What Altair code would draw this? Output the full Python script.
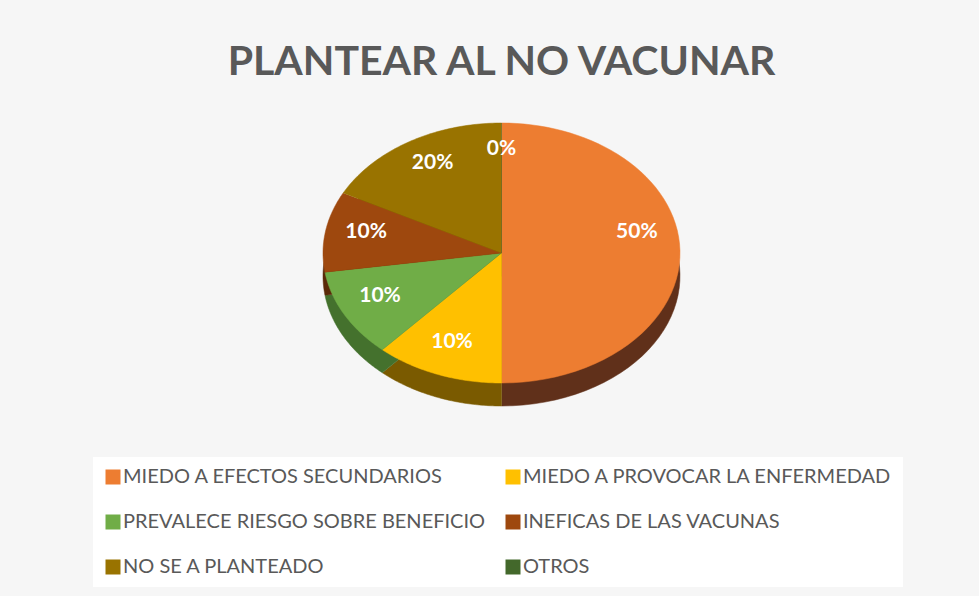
import altair as alt
import pandas as pd

# ---- data ----
categories = [
    "MIEDO A EFECTOS SECUNDARIOS",
    "MIEDO A PROVOCAR LA ENFERMEDAD",
    "PREVALECE RIESGO SOBRE BENEFICIO",
    "INEFICAS DE LAS VACUNAS",
    "NO SE A PLANTEADO",
    "OTROS",
]
values = [50, 10, 10, 10, 20, 0]
labels = ["50%", "10%", "10%", "10%", "20%", "0%"]

# ---- styles ----
top_colors = ["#ED7D31", "#FFC000", "#70AD47", "#9E480E", "#997300", "#43682B"]
side_colors = ["#60301A", "#7A5A00", "#44712D", "#5A2A08", "#5C4500", "#2A421B"]

A = 130.0          # semi-minor axis in px (vertical)
DEPTH = 23.0       # thickness of the pie in px
DD = DEPTH / A
W = 357
H = int(2 * A + DEPTH)
N = 60
PERSP = 0.175      # perspective skew of angles (front slices look larger)

df = pd.DataFrame({"cat": categories, "value": values, "label": labels, "idx": list(range(len(values)))})

base = (
    alt.Chart(df)
    .transform_window(cum="sum(value)", sort=[alt.SortField("idx")], frame=[None, 0])
    .transform_joinaggregate(total="sum(value)")
    .transform_calculate(
        a0="2*PI*(datum.cum - datum.value)/datum.total",
        a1="2*PI*datum.cum/datum.total",
    )
)

xs = alt.Scale(domain=[-1, 1], nice=False, zero=False)
ys = alt.Scale(domain=[-1 - DD, 1], nice=False, zero=False)

geom = (
    base.transform_calculate(step=f"sequence(0, {N + 2})")
    .transform_flatten(["step"])
    .transform_calculate(
        t0=f"datum.a0 + (datum.a1 - datum.a0) * (datum.step - 1) / {N}",
    )
    .transform_calculate(t=f"datum.t0 - {PERSP} * sin(datum.t0)")
    .transform_calculate(
        px="datum.step == 0 ? 0 : sin(datum.t)",
        py="datum.step == 0 ? 0 : cos(datum.t)",
        pys=f"(datum.step == 0 ? 0 : cos(datum.t)) - {DD}",
    )
)

side = geom.mark_line(filled=True, strokeWidth=0.5).encode(
    x=alt.X("px:Q", scale=xs, axis=None),
    y=alt.Y("pys:Q", scale=ys, axis=None),
    color=alt.Color("cat:N", scale=alt.Scale(domain=categories, range=side_colors), legend=None),
    stroke=alt.Stroke("cat:N", scale=alt.Scale(domain=categories, range=side_colors), legend=None),
    order=alt.Order("step:Q"),
)

top = geom.mark_line(filled=True, strokeWidth=0.5).encode(
    x=alt.X("px:Q", scale=xs, axis=None),
    y=alt.Y("py:Q", scale=ys, axis=None),
    color=alt.Color(
        "cat:N",
        scale=alt.Scale(domain=categories, range=top_colors),
        legend=alt.Legend(
            title=None,
            orient="none",
            direction="horizontal",
            legendX=-230,
            legendY=334,
            columns=2,
            symbolType="square",
            symbolSize=225,
            symbolStrokeWidth=0,
            labelFont="Lato",
            labelFontSize=20,
            labelColor="#595959",
            labelLimit=0,
            rowPadding=25,
            columnPadding=17,
            labelOffset=0,
            padding=10,
            fillColor="white",
        ),
    ),
    stroke=alt.Stroke("cat:N", scale=alt.Scale(domain=categories, range=top_colors), legend=None),
    order=alt.Order("step:Q"),
)

text = (
    base.transform_calculate(mid0="(datum.a0 + datum.a1)/2")
    .transform_calculate(mid=f"datum.mid0 - {PERSP} * sin(datum.mid0)")
    .transform_calculate(
        lx="0.77*sin(datum.mid)",
        ly="0.77*cos(datum.mid) + 0.03",
    )
    .mark_text(font="Lato", fontSize=21, fontWeight="bold", color="white")
    .encode(
        x=alt.X("lx:Q", scale=xs, axis=None),
        y=alt.Y("ly:Q", scale=ys, axis=None),
        text="label:N",
    )
)

chart = (
    alt.layer(side, top, text)
    .resolve_scale(color="independent", stroke="independent")
    .properties(
        width=W,
        height=H,
        title=alt.TitleParams(
            "PLANTEAR AL NO VACUNAR",
            font="Lato",
            fontSize=41,
            fontWeight="bold",
            color="#595959",
            anchor="middle",
            baseline="alphabetic",
            offset=6,
        ),
        autosize="none",
        padding={"left": 323, "top": 123, "right": 979 - 323 - W, "bottom": 596 - 123 - H},
        background="#f6f6f6",
    )
    .configure_view(stroke=None)
)

chart.save("out.html", embed_options={"renderer": "svg", "actions": False})
